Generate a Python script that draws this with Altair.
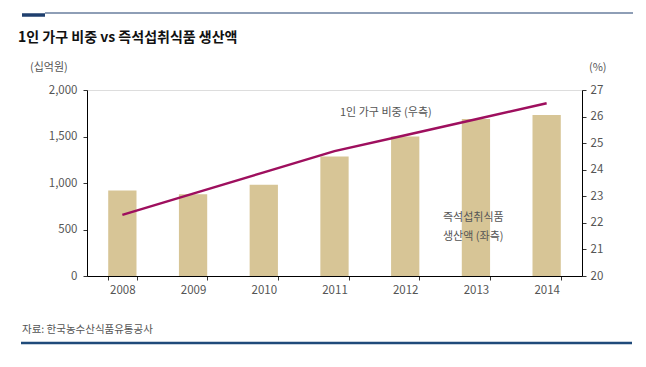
import altair as alt
import pandas as pd

years = ["2008", "2009", "2010", "2011", "2012", "2013", "2014"]
production = [920, 880, 980, 1285, 1500, 1688, 1732]   # 십억원
share = [22.3, 23.1, 23.9, 24.7, 25.3, 25.9, 26.5]      # %

df = pd.DataFrame({"year": years, "prod": production, "share": share})

W, H = 495, 186
FONT = "Noto Sans CJK KR"
GRAY = "#555555"

xenc = alt.X("year:N", sort=years, title=None,
             scale=alt.Scale(paddingInner=0.6, paddingOuter=0.3),
             axis=alt.Axis(labelAngle=0, labelColor=GRAY, labelFontSize=11.5, labelFont=FONT,
                           domainColor="black", tickColor="#333", tickBand="extent",
                           tickSize=4, labelPadding=4))

bars = alt.Chart(df).mark_bar(color="#D7C596").encode(
    x=xenc,
    y=alt.Y("prod:Q", title=None,
            scale=alt.Scale(domain=[0, 2000], nice=False),
            axis=alt.Axis(values=[0, 500, 1000, 1500, 2000], format=",.0f", grid=False,
                          labelColor=GRAY, labelFontSize=11.5, labelFont=FONT,
                          domainColor="black", tickColor="#333", tickSize=4, labelPadding=6)),
)

line = alt.Chart(df).mark_line(color="#9E0F5E", strokeWidth=2.5).encode(
    x=alt.X("year:N", sort=years),
    y=alt.Y("share:Q", title=None,
            scale=alt.Scale(domain=[20, 27], nice=False),
            axis=alt.Axis(orient="right", values=[20, 21, 22, 23, 24, 25, 26, 27], grid=False,
                          labelColor=GRAY, labelFontSize=11.5, labelFont=FONT,
                          domainColor="black", tickColor="#333", tickSize=4, labelPadding=4)),
)

def txt(s, x, y, size=11, color=GRAY, weight="normal", align="left"):
    return alt.Chart(pd.DataFrame({"t": [s]})).mark_text(
        align=align, baseline="middle", font=FONT, fontSize=size, color=color, fontWeight=weight
    ).encode(text="t:N", x=alt.value(x), y=alt.value(y))

ox, oy = 87, 90
annots = [
    txt("1인 가구 비중 vs 즉석섭취식품 생산액", 18 - ox, 38 - oy, size=14, color="#111111", weight="bold"),
    txt("(십억원)", 30 - ox, 68 - oy),
    txt("(%)", 589 - ox, 68 - oy),
    txt("1인 가구 비중 (우측)", 340 - ox, 113 - oy),
    txt("즉석섭취식품", 443 - ox, 218 - oy),
    txt("생산액 (좌측)", 443 - ox, 237 - oy),
    txt("자료: 한국농수산식품유통공사", 22 - ox, 330 - oy, size=10.5),
]

def hrule(x1, x2, y, color, w):
    return alt.Chart(pd.DataFrame({"a": [0]})).mark_rule(color=color, strokeWidth=w).encode(
        x=alt.value(x1 - ox), x2=alt.value(x2 - ox), y=alt.value(y - oy))

rules = [
    hrule(45, 633, 13, "#1F3F6E", 1.2),
    hrule(22, 45, 15, "#1F3F6E", 3.5),
    hrule(21, 632, 343, "#1F4A7A", 2.5),
]

base = alt.layer(bars, line).resolve_scale(y="independent")
chart = alt.layer(base, *annots, *rules).properties(
    width=W, height=H,
    autosize=alt.AutoSizeParams(type="none"),
    padding={"left": ox - 8, "top": oy - 8, "right": 56, "bottom": 80},
).configure_view(stroke=None).configure(background="white")

chart.save("out.html", embed_options={"renderer": "svg", "actions": False})
